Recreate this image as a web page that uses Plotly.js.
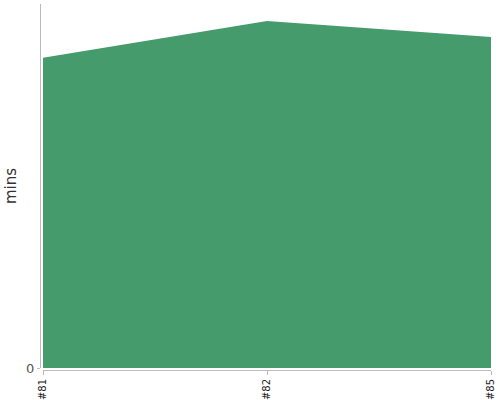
<!DOCTYPE html>
<html>
<head>
<meta charset="utf-8">
<script src="https://cdn.plot.ly/plotly-3.0.1.min.js"></script>
<style>html,body{margin:0;padding:0;background:#fff;}#chart{width:500px;height:400px;}</style>
</head>
<body>
<div id="chart"></div>
<script>
var categories = ['#81', '#82', '#85'];
var minsValues = [85.2, 95.3, 90.9];
var yTickVals = [0];
var yTickText = ['0'];

var trace = {
  x: categories,
  y: minsValues,
  type: 'scatter',
  mode: 'lines',
  fill: 'tozeroy',
  fillcolor: '#459b6c',
  line: {color: '#459b6c', width: 0},
  hoverinfo: 'none'
};

var layout = {
  width: 500, height: 400,
  margin: {l: 40, r: 9, t: 4, b: 30},
  paper_bgcolor: '#fff', plot_bgcolor: '#fff',
  showlegend: false,
  xaxis: {
    type: 'category',
    domain: [0.0067, 1],
    range: [0, 2],
    anchor: 'free', position: 0,
    showline: true, linecolor: '#bbb', linewidth: 1,
    ticks: 'outside', ticklen: 4, tickcolor: '#bbb',
    tickangle: -90,
    tickfont: {family: 'DejaVu Sans, sans-serif', size: 10, color: '#222'},
    showgrid: false, zeroline: false, fixedrange: true
  },
  yaxis: {
    domain: [2/366, 1],
    range: [0, 100],
    anchor: 'free', position: 0,
    showline: true, linecolor: '#bbb', linewidth: 1,
    ticks: 'outside', ticklen: 3, tickcolor: '#bbb',
    tickvals: yTickVals, ticktext: yTickText,
    tickfont: {family: 'DejaVu Sans, sans-serif', size: 13, color: '#555'},
    showgrid: false, zeroline: false,
    title: {text: 'mins', standoff: 4, font: {family: 'DejaVu Sans, sans-serif', size: 15, color: '#333'}}
  }
};

Plotly.newPlot('chart', [trace], layout, {displayModeBar: false, staticPlot: true});
</script>
</body>
</html>
